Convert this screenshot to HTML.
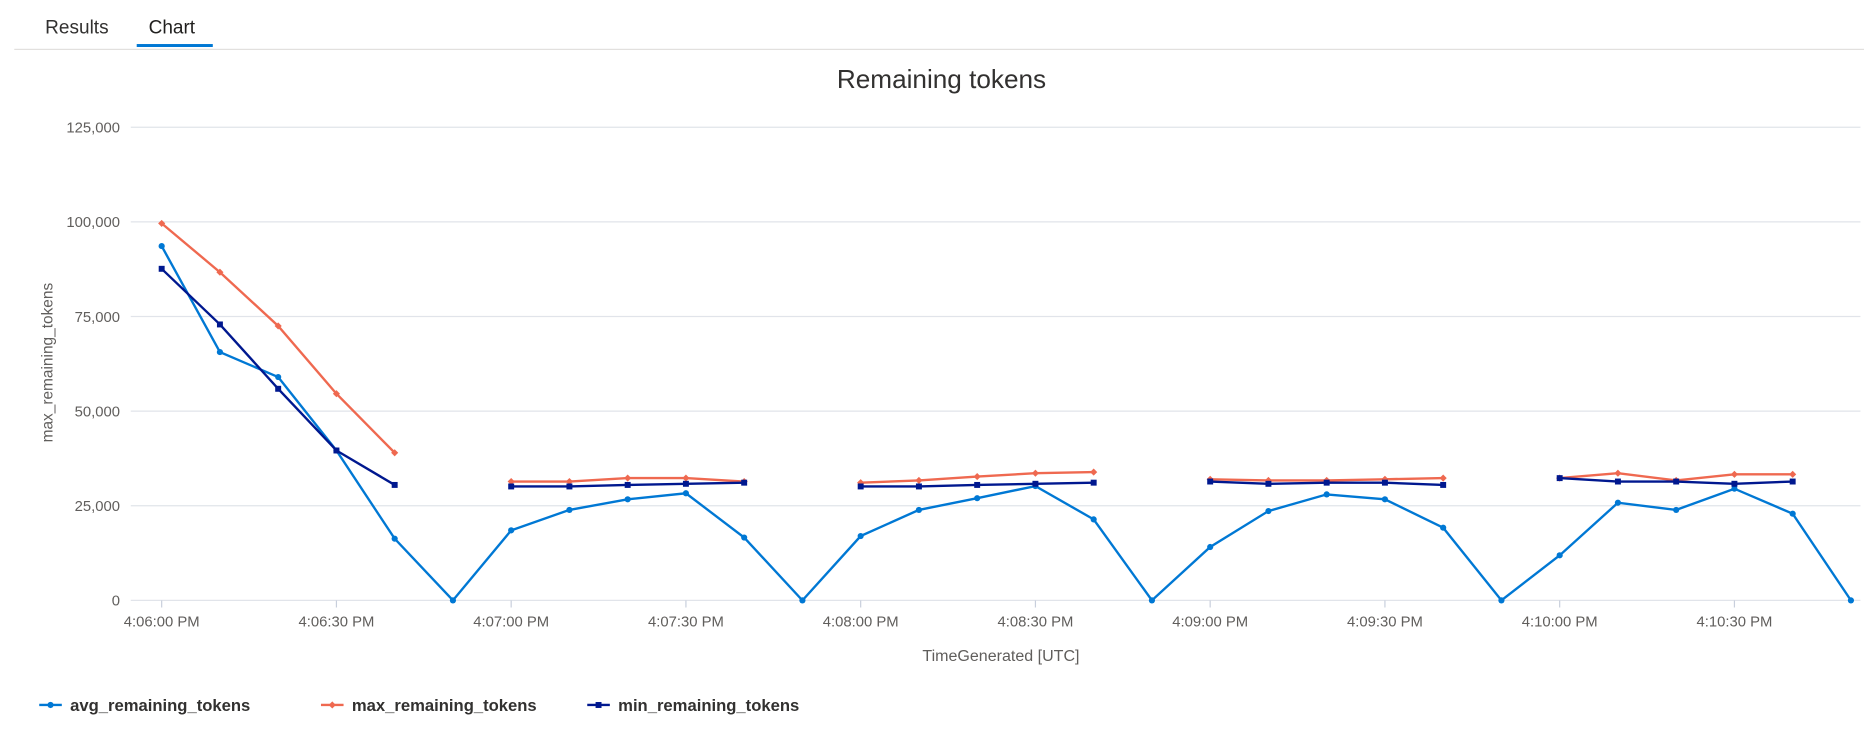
<!DOCTYPE html>
<html><head><meta charset="utf-8"><style>
html,body{margin:0;padding:0;background:#fff;width:1864px;height:730px;overflow:hidden}
svg{display:block;font-family:"Liberation Sans",sans-serif}
</style></head><body>
<svg id="c" width="1864" height="730" viewBox="0 0 1568 614">
<g>
<text x="38" y="28" font-size="16" fill="#323130">Results</text>
<text x="125" y="28" font-size="16" fill="#201f1e">Chart</text>
<rect x="115" y="37" width="64" height="2.5" fill="#0078d4"/>
<rect x="12" y="41" width="1556" height="1" fill="#e1dfdd"/>
</g>
<text x="792" y="74" font-size="22" text-anchor="middle" fill="#323130">Remaining tokens</text>
<text transform="translate(44,305) rotate(-90)" font-size="13" text-anchor="middle" fill="#605e5c">max_remaining_tokens</text>
<text x="842" y="556" font-size="13.5" text-anchor="middle" fill="#605e5c">TimeGenerated [UTC]</text>
<g id="grid"></g><g id="series"></g><g id="legend"></g>
</svg>
<script>
const yTicks=[0,25000,50000,75000,100000,125000];
const xTickLabels=["4:06:00 PM","4:06:30 PM","4:07:00 PM","4:07:30 PM","4:08:00 PM","4:08:30 PM","4:09:00 PM","4:09:30 PM","4:10:00 PM","4:10:30 PM"];
const seconds=[0,10,20,30,40,50,60,70,80,90,100,110,120,130,140,150,160,170,180,190,200,210,220,230,240,250,260,270,280,290];
const avgVals=[93600,65600,59000,39600,16300,0,18500,23900,26700,28300,16600,0,17000,23900,27000,30200,21400,0,14100,23600,28000,26700,19200,0,11900,25800,23900,29500,22900,0];
const maxVals=[99600,86700,72500,54600,39000,null,31400,31400,32300,32300,31400,null,31100,31700,32700,33600,33900,null,32000,31700,31700,32000,32300,null,32300,33600,31700,33300,33300,null];
const minVals=[87600,72900,55900,39600,30500,null,30100,30100,30500,30800,31100,null,30100,30100,30500,30800,31100,null,31400,30800,31100,31100,30500,null,32300,31400,31400,30800,31400,null];
const NS="http://www.w3.org/2000/svg";
const X=s=>136+s*4.9, Y=v=>505-v/125000*398;
function mk(t,a,p){const e=document.createElementNS(NS,t);for(const k in a)e.setAttribute(k,a[k]);p.appendChild(e);return e;}
const g=document.getElementById('grid');
yTicks.forEach(v=>{
 const l=mk('line',{x1:110,x2:1565,y1:Y(v),y2:Y(v),stroke:'#e1e4ea','stroke-width':1},g);
 
 
 const t=mk('text',{x:101,y:Y(v)+4.5,'font-size':12.5,'text-anchor':'end',fill:'#605e5c'},g);
 t.textContent=v.toLocaleString('en-US');
 
 
});
xTickLabels.forEach((s,i)=>{
 const x=X(i*30);
 const l=mk('line',{x1:x,x2:x,y1:505,y2:511,stroke:'#c8cfdc'},g);
 
 
 const t=mk('text',{x:x,y:527,'font-size':12.5,'text-anchor':'middle',fill:'#605e5c'},g);
 t.textContent=s;
 
 
});
const sg=document.getElementById('series');
const defs=[[avgVals,'#0078d4','avg','circle'],[maxVals,'#ef6950','max','diamond'],[minVals,'#00188f','min','square']];
function marker(x,y,c,shape,p){
 let e;
 if(shape==='circle')e=mk('circle',{cx:x,cy:y,r:2.6,fill:c},p);
 else if(shape==='square')e=mk('rect',{x:x-2.5,y:y-2.5,width:5,height:5,fill:c},p);
 else e=mk('path',{d:`M${x} ${y-3}L${x+3} ${y}L${x} ${y+3}L${x-3} ${y}Z`,fill:c},p);
 return e;
}
defs.forEach(([vals,c,n,shape])=>{
 let d='',pen=false;
 vals.forEach((v,i)=>{if(v===null){pen=false;return;}d+=(pen?'L':'M')+X(seconds[i])+' '+Y(v);pen=true;});
 const p=mk('path',{d:d,fill:'none',stroke:c,'stroke-width':2},sg);
 
 
 vals.forEach((v,i)=>{if(v===null)return;
  const m=marker(X(seconds[i]),Y(v),c,shape,sg);
  
  
 });
});
const lg=document.getElementById('legend');
[['avg_remaining_tokens',33,'#0078d4','circle'],['max_remaining_tokens',270,'#ef6950','diamond'],['min_remaining_tokens',494,'#00188f','square']].forEach(([s,x,c,sh])=>{
 const grp=mk('g',{},lg);
 
 
 mk('line',{x1:x,x2:x+19,y1:593,y2:593,stroke:c,'stroke-width':2},grp);
 marker(x+9.5,593,c,sh,grp);
 const t=mk('text',{x:x+26,y:598,'font-size':14,'font-weight':'bold',fill:'#323130'},grp);
 t.textContent=s;
});
</script>
</body></html>
